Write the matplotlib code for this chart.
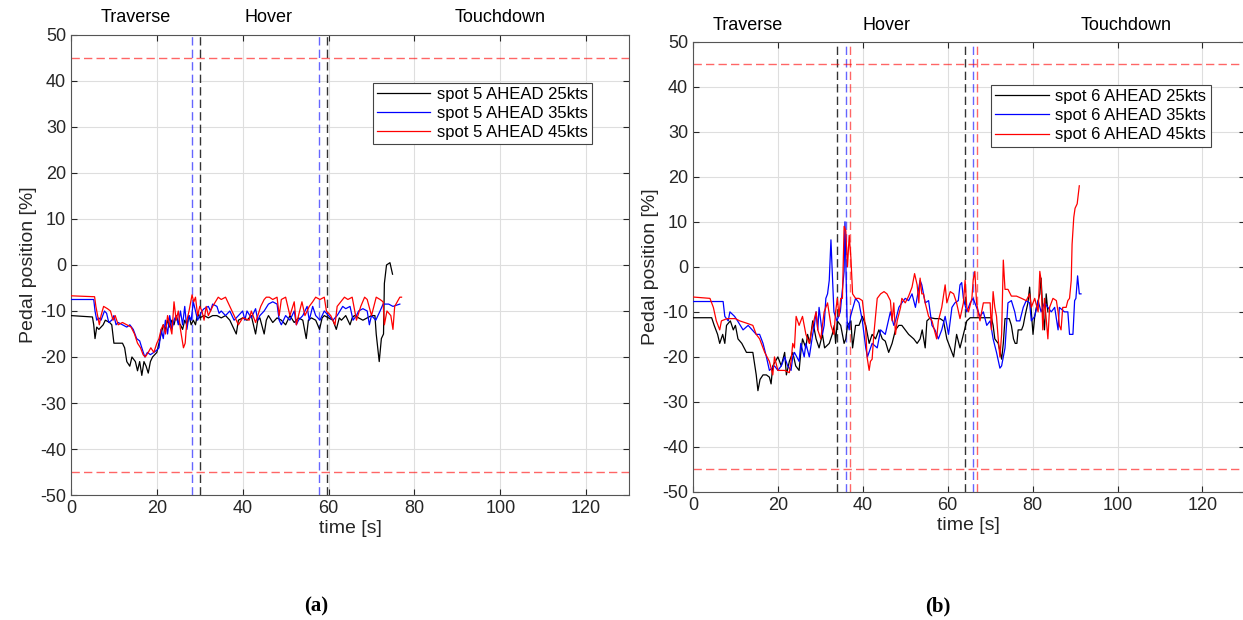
import numpy as np
import matplotlib
matplotlib.use("Agg")
import matplotlib.pyplot as plt
from matplotlib import transforms

plt.rcParams['font.family'] = ['Liberation Sans', 'DejaVu Sans']
plt.rcParams['axes.unicode_minus'] = False

# ---- spot 5 (a) ----
a_t_25 = [0, 5, 5.3, 5.6, 6, 6.5, 7.5, 8, 9, 9.5, 10, 12, 12.5, 13, 13.7, 14.2, 15, 15.5, 16, 16.5, 17, 17.5, 18,
          18.5, 19, 19.5, 20, 20.5, 21, 21.5, 22, 22.5, 23, 23.5, 24, 24.5, 25, 25.5, 26, 26.5, 27, 27.5, 28, 28.5,
          29, 29.5, 30, 31, 32, 33, 34, 35, 36, 37, 38, 38.5, 39, 40, 41, 42, 43, 43.5, 44, 45, 45.5, 46, 47, 48, 49,
          50, 51, 52, 53, 54, 54.8, 55.3, 56, 57, 57.9, 58.5, 59, 60, 61, 61.8, 62.5, 63, 64, 65, 65.5, 66, 67, 68,
          69, 70, 70.8, 71.1, 71.8, 72.3, 72.8, 73, 73.5, 74.3, 74.9]
a_v_25 = [-11, -11.3, -13, -16, -13.5, -14, -13, -12, -12.5, -13, -17, -17, -18, -21, -22, -20, -21, -23, -21, -24,
          -21, -22, -23.5, -21, -20, -19.5, -19, -17, -15, -13, -14, -12, -13.5, -12, -13, -11, -12.5, -13, -14, -12,
          -13, -11, -13, -12, -13, -10.5, -11.5, -11, -11.5, -11, -11, -11.5, -11, -12, -14, -15, -12, -11.5, -12,
          -11, -15, -12, -11.5, -15, -12, -11, -12.5, -11.5, -12, -13, -11, -12.5, -11.5, -12, -16, -12, -11.5, -12,
          -14, -11.5, -11, -11.5, -12, -14, -11.5, -12, -11, -13, -11.5, -11, -11.5, -12, -11.5, -11, -11, -15, -21,
          -16, -15, -4, 0, 0.5, -2]

a_t_35 = [0, 5.3, 5.6, 6, 6.5, 7, 7.8, 8.3, 8.8, 9.5, 10, 10.5, 11, 12, 13, 13.7, 14.5, 15.3, 16, 16.5, 17.2, 17.8,
          18.5, 19.3, 20, 20.5, 21, 21.5, 22, 22.5, 23, 23.5, 24, 24.5, 25, 25.5, 26, 26.5, 27, 27.5, 28, 28.5, 29,
          29.5, 30, 30.5, 31, 32, 32.5, 33, 34, 34.5, 35, 36, 37, 38, 39, 40, 40.5, 41, 42, 43, 43.5, 44, 45, 46, 47,
          48, 48.5, 49, 50, 51, 52, 52.5, 53, 54, 55, 55.5, 56.3, 57, 58, 59, 60, 61, 62, 63.3, 64, 65, 65.7, 66.5,
          67, 68, 69, 69.5, 70, 71, 72, 72.7, 74, 75, 76.6]
a_v_35 = [-7.5, -7.5, -10, -12, -11.5, -12, -10, -10.5, -12.5, -12, -11, -13, -12.5, -13, -13.5, -13, -14, -16,
          -16.5, -18, -20, -19, -19.5, -19, -18.5, -18, -14, -16, -12, -15, -11, -14, -12, -11, -13, -10, -13, -9,
          -14, -11, -12, -8, -10, -12, -11, -10, -9.5, -9, -10, -8.5, -9, -10.5, -10, -11, -10, -12, -11, -10, -12,
          -10, -11.5, -9.5, -12, -11, -10, -8.5, -8, -8.5, -12, -13, -11, -12, -10, -13, -12, -11, -9, -12, -9, -11,
          -12, -10, -11, -12, -11, -9, -9.5, -9, -12, -11, -10, -9.5, -10, -13, -11, -12, -10, -8.5, -8.5, -9, -8.5]

a_t_45 = [0, 5.5, 5.8, 6.2, 6.6, 7, 7.6, 8.5, 9.2, 9.8, 10.3, 11, 12, 13, 14, 14.8, 15.5, 16.2, 16.8, 17.3, 18,
          18.6, 19.3, 20, 20.5, 21, 21.5, 22, 22.5, 23, 23.5, 24, 24.5, 25, 25.5, 26.2, 26.6, 27, 27.5, 28.2, 28.6,
          29, 29.5, 30, 30.5, 31, 31.5, 32, 33, 34.3, 35, 36, 37, 38, 39, 40, 41.5, 42, 43, 44.2, 45, 45.5, 46.2, 47,
          48, 48.5, 49, 50, 50.5, 51, 52, 52.5, 53, 53.8, 54.5, 55.5, 56.3, 57, 58, 59, 59.5, 60.5, 61.5, 62, 63.7,
          64.5, 65.5, 66.5, 67.5, 68.4, 69, 70, 71.1, 72, 72.7, 73, 73.6, 74.5, 75, 75.4, 76, 76.6, 77]
a_v_45 = [-6.7, -6.9, -9, -11, -13, -11, -9, -9.5, -10, -12, -11, -13, -12.5, -13, -13.5, -15, -17, -18, -19.5,
          -20, -19, -18, -19, -17, -16, -14, -13, -15, -11, -13, -15, -8, -12, -10, -14, -18, -17, -12, -10, -6.5,
          -8, -7, -11, -9, -10, -12, -9, -11, -9, -7, -7.5, -7, -9, -11, -13, -11.5, -12, -10, -12.5, -9, -7.5, -7,
          -7, -7.5, -7, -11, -7.5, -7, -9, -11, -8, -13, -11, -8, -11, -9, -8, -7, -7.5, -7, -10, -11, -13, -9, -7,
          -7.5, -7, -12, -9, -7, -7.5, -11, -7, -7.5, -8, -13, -10, -11, -14, -9, -8, -7, -7]

# ---- spot 6 (b) ----
b_t_25 = [0, 4.4, 5, 5.8, 6.3, 7, 7.5, 7.9, 8.8, 9.5, 10, 10.6, 11.5, 12.6, 14.1, 14.9, 15.3, 15.8, 16.5, 17.3, 18,
          18.4, 18.8, 20, 20.8, 21.6, 22, 22.7, 23.5, 24.2, 25, 25.4, 25.8, 26.6, 27, 27.5, 28.2, 29, 29.7, 30.5, 31,
          32.1, 32.8, 33.3, 33.6, 34, 34.8, 35.6, 36, 36.4, 37.2, 37.6, 38.3, 39.1, 39.9, 40.7, 41.5, 42.2, 43, 43.8,
          44.6, 45.3, 46.1, 46.9, 47.7, 48.5, 49.2, 50, 50.8, 52, 52.8, 53.5, 54, 54.7, 55.1, 55.9, 57, 58.2, 59,
          59.8, 60.6, 61.4, 62.1, 62.9, 63.7, 64.5, 65.3, 70.3, 70.7, 71.1, 71.9, 72.7, 73.1, 73.5, 74.5, 75, 75.5,
          75.9, 76.3, 76.6, 77.4, 77.8, 78.2, 78.9, 79.3, 79.7, 80.1, 80.5, 80.9, 81.7, 82, 82.4, 82.8, 83.2, 83.6]
b_v_25 = [-11.3, -11.3, -13, -15, -17, -15, -17, -13, -12, -14, -13, -16, -17, -19, -19, -24, -27.5, -25, -24,
          -24, -24.5, -26, -22, -20, -22, -19, -24, -21, -19, -22, -23, -19, -16, -18, -15, -17, -12, -16, -18, -15,
          -18, -17, -15, -13, -17, -12, -13, -17, -16, -13, -12, -18, -13, -13, -11, -13, -17, -15, -16, -14, -16,
          -16.5, -19, -17, -14, -13, -13, -14, -15, -16, -17, -16, -14, -18, -12, -11.3, -11.5, -11.5, -12, -16, -18,
          -20, -15, -18, -15, -12, -11.3, -11.3, -13, -16, -17, -20.5, -17, -11.5, -11.5, -13, -16, -17, -17, -14,
          -14, -13, -11, -8, -4.5, -10, -15, -11, -9, -6, -2.5, -10, -14, -6, -10]

b_t_35 = [0, 7.1, 7.5, 8.3, 8.7, 9.8, 10.5, 11.8, 13, 14.9, 15.7, 16.5, 17.3, 18, 19.2, 20, 20.8, 21.6, 22.3, 23.1,
          23.5, 23.9, 25, 25.4, 26.2, 26.6, 27.4, 28.2, 28.6, 29, 29.4, 29.7, 30.1, 30.5, 30.9, 31.3, 31.7, 32.1,
          32.5, 32.8, 33.2, 33.9, 34.7, 35.2, 35.6, 35.8, 36.3, 36.8, 37.1, 38.3, 39.1, 39.9, 40.7, 41.1, 42.2, 43.4,
          44.2, 45.3, 46.5, 47.3, 47.7, 48.5, 49.2, 50, 50.8, 51.6, 52.4, 53.5, 53.9, 54.7, 55.5, 56.3, 57, 57.8,
          58.6, 59.4, 60.2, 61, 61.7, 62.5, 62.9, 63.3, 63.7, 64.5, 65.3, 66, 66.8, 67.6, 68.4, 69.2, 70, 70.7, 71.5,
          72.3, 72.7, 73.5, 74.2, 75, 75.8, 76.2, 77, 77.8, 78.5, 79.3, 79.7, 80.5, 81.3, 82, 82.8, 83.6, 84.4, 85.2,
          86, 86.3, 87.5, 88.3, 88.7, 89.5, 89.9, 90.2, 90.6, 91, 91.4]
b_v_35 = [-7.7, -7.7, -11, -12, -10, -11, -12, -14, -13, -15, -15, -17, -20, -23, -22, -23, -22, -20, -22, -23,
          -20, -19, -21, -17, -20, -17, -20, -15, -13, -10, -14, -9, -12, -15, -13, -7, -6, -3, 6, -1, -10, -12, -10,
          -5, -1, 10, -12, -14, -11, -7, -8, -12, -18, -20, -17, -18, -14, -15, -10, -13, -12, -9, -8, -7, -7.5, -6,
          -9, -3, -4, -8, -7.5, -13, -14, -16, -14, -11, -15, -9, -8, -7.5, -4, -3.5, -7, -10, -8, -7, -9, -11, -10,
          -13, -12, -16, -19, -22.5, -22, -18, -8, -7.5, -10, -12, -12, -9, -7.5, -8, -12, -11, -7.5, -10, -8, -9,
          -10, -9, -14, -9, -10, -10, -15, -15, -7.5, -7, -2, -6, -6]

b_t_45 = [0, 4, 4.8, 5.5, 6.3, 6.7, 8, 10, 11, 12.6, 14.1, 14.9, 15.7, 16.9, 18, 18.8, 19.2, 20, 21.6, 22.7, 23.1,
          23.5, 23.9, 24.3, 25, 25.8, 26.6, 27.4, 28.2, 29, 29.4, 30.1, 30.9, 31.7, 32.5, 33.2, 33.6, 34, 34.4, 34.8,
          35.2, 35.6, 36, 36.4, 36.8, 37.2, 37.6, 38.3, 39.1, 39.9, 40.7, 41, 41.5, 41.8, 42.2, 42.6, 43.4, 44.2, 45,
          45.7, 46.5, 46.9, 47.3, 47.7, 48.1, 48.9, 49.2, 50, 50.8, 51.6, 52.2, 52.8, 53.2, 53.5, 53.9, 54.3, 54.7,
          55.5, 56.3, 57.4, 57.8, 58.6, 59.4, 59.8, 60.6, 61.4, 62.1, 62.9, 63.7, 64.1, 64.5, 64.9, 65.7, 66, 66.4,
          66.8, 67.6, 68.4, 69.2, 70, 70.3, 70.7, 71.1, 71.5, 71.9, 72.3, 72.7, 73.1, 73.5, 74.2, 75, 76.2, 77.4,
          78.5, 79.3, 79.7, 80.5, 81.3, 81.7, 82, 82.4, 82.8, 83.6, 84, 84.8, 85.6, 86, 86.3, 86.7, 87.1, 87.9, 88.3,
          88.7, 89.1, 89.3, 89.7, 90, 90.5, 91]
b_v_45 = [-6.7, -7, -9, -12, -14, -12, -11.5, -11.5, -12, -12.5, -13, -15, -16, -19, -21, -24, -20, -23, -23,
          -23.5, -21, -17, -18, -11, -13, -11, -15, -17, -13, -10, -14, -16, -10, -8, -13, -15, -10, -7, -11, -7, -7,
          9, 8, 0, 7, 2, -6, -7, -7, -7.5, -14, -20, -23, -21, -20.5, -15, -7, -6, -5.5, -6, -7.5, -12, -8, -15, -12,
          -9, -7, -8, -6.5, -4.5, -1.5, -4, -8, -2.5, -6, -6, -8, -11, -12, -16, -12, -9, -4, -8, -5.5, -6, -8,
          -11.5, -8, -3, -9, -10, -7, -3, -1, -8, -12, -8, -8, -8, -14, -5.5, -9, -11, -16, -20, -15, 1.5, -5, -5,
          -6.5, -6.5, -7, -7.5, -6, -9, -7, -10, -1, -3, -14, -7, -16, -9, -7, -7.5, -10, -13, -14, -9, -9, -7.5, -7,
          -3, 5, 11, 13, 14, 18]

# phase boundaries (black / blue / red markers)
a_marks = [(28.1, 'blue'), (30.0, 'black'), (57.8, 'blue'), (59.7, 'black')]
b_marks = [(33.9, 'black'), (36.1, 'blue'), (36.9, 'red'), (64.0, 'black'), (66.0, 'blue'), (66.9, 'red')]
a_phase_x = [15, 46, 100]
b_phase_x = [13, 45.5, 102]
phase_names = ['Traverse', 'Hover', 'Touchdown']
pedal_limit = 45

fig = plt.figure(figsize=(12.43, 6.2), dpi=100)
ax_a = fig.add_axes([0.0571, 0.2016, 0.449, 0.742])
ax_b = fig.add_axes([0.5575, 0.2065, 0.444, 0.7262])

panels = [
    (ax_a, 5, [a_t_25, a_t_35, a_t_45], [a_v_25, a_v_35, a_v_45], a_marks, a_phase_x, (0.934, 0.896), '(a)', 316),
    (ax_b, 6, [b_t_25, b_t_35, b_t_45], [b_v_25, b_v_35, b_v_45], b_marks, b_phase_x, (0.938, 0.904), '(b)', 938),
]
colors = ['black', 'blue', 'red']
speeds = ['25kts', '35kts', '45kts']
dark = '#262626'

for ax, spot, ts, vs, marks, px, leg_pos, tag, tag_x in panels:
    for t, v, c, s in zip(ts, vs, colors, speeds):
        ax.plot(t, v, color=c, lw=0.9, label=f'spot {spot} AHEAD {s}', zorder=3)
    for x, c in marks:
        ax.axvline(x, color=c, ls=(0, (6, 3)), lw=1.0, alpha=0.6 if c != 'black' else 0.8, zorder=2)
    for y in (pedal_limit, -pedal_limit):
        ax.axhline(y, color='red', ls=(0, (6, 3)), lw=1.0, alpha=0.6, zorder=2)

    ax.set_xlim(0, 130)
    ax.set_ylim(-50, 50)
    ax.set_xticks(np.arange(0, 121, 20))
    ax.set_yticks(np.arange(-50, 51, 10))
    ax.grid(True, color='#dedede', lw=0.8, zorder=0)
    ax.set_axisbelow(True)
    ax.tick_params(direction='in', top=True, right=True, labelsize=13, colors=dark, length=4)
    for sp in ax.spines.values():
        sp.set_color('#555555')
        sp.set_linewidth(0.8)
    ax.set_xlabel('time [s]', fontsize=14, color=dark, labelpad=2)
    ax.set_ylabel('Pedal position [%]', fontsize=14, color=dark, labelpad=2)

    trans = transforms.blended_transform_factory(ax.transData, ax.transAxes)
    for x, name in zip(px, phase_names):
        ax.text(x, 1.037, name, transform=trans, ha='center', va='center', fontsize=13, color='black')

    leg = ax.legend(loc='upper right', bbox_to_anchor=leg_pos, fontsize=12, handlelength=3.2,
                    borderpad=0.25, labelspacing=0.25, handletextpad=0.4, borderaxespad=0,
                    fancybox=False, framealpha=1, edgecolor='#444444')
    leg.get_frame().set_linewidth(0.8)

    fig.text(tag_x / 1243, 1 - 606 / 620, tag, ha='center', va='center', fontsize=15,
             fontweight='bold', family=['Liberation Serif', 'DejaVu Serif'])

fig.savefig('out.png', dpi=100)
